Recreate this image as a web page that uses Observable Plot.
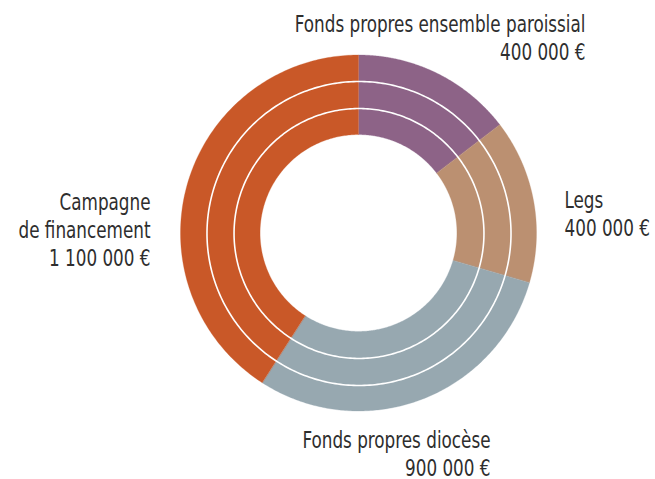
<!DOCTYPE html>
<html><head><meta charset="utf-8">
<script src="https://cdn.jsdelivr.net/npm/d3@7"></script>
<script src="https://cdn.jsdelivr.net/npm/@observablehq/plot@0.6"></script>
<style>html,body{margin:0;padding:0;background:#fff;}</style>
</head><body><div id="chart"></div>
<script>
// Data
const categories = ["Fonds propres ensemble paroissial", "Legs", "Fonds propres diocèse", "Campagne de financement"];
const amounts = [400000, 400000, 900000, 1100000];
const amountLabels = ["400 000 €", "400 000 €", "900 000 €", "1 100 000 €"];
const labelLines = [["Fonds propres ensemble paroissial"], ["Legs"], ["Fonds propres diocèse"], ["Campagne", "de financement"]];
// angular share of each slice as drawn in the picture (percent of full turn)
const shares = [14.6, 14.9, 29.6, 40.9];
const colors = ["#8d6387", "#bb9071", "#97a8b0", "#c95828"];

// geometry (radii relative to outer radius)
const R_OUT = 1, R_IN = 0.553, RINGS = [0.854, 0.702];
const N = 180;

const total = d3.sum(shares);
const slices = [];
let acc = 0;
categories.forEach((c, i) => {
  const a0 = acc / total * 2 * Math.PI;
  acc += shares[i];
  const a1 = acc / total * 2 * Math.PI;
  for (let k = 0; k <= N; k++) {
    const a = a0 + (a1 - a0) * k / N;
    slices.push({cat: c, x1: R_OUT * Math.sin(a), y1: R_OUT * Math.cos(a), x2: R_IN * Math.sin(a), y2: R_IN * Math.cos(a)});
  }
});
const rings = [];
RINGS.forEach((r, j) => {
  for (let k = 0; k <= 360; k++) {
    const a = k / 360 * 2 * Math.PI;
    rings.push({ring: j, x: r * Math.sin(a), y: r * Math.cos(a)});
  }
});

// label placement (pixel anchors converted to data units)
const cx = 358.5, cy = 233, RP = 178;
const labelLayout = [
  {px: 585, py: 59, anchor: "end"},
  {px: 564, py: 235, anchor: "start"},
  {px: 490, py: 475, anchor: "end"},
  {px: 150, py: 265, anchor: "end"}
];
const labels = categories.map((c, i) => ({
  text: [...labelLines[i], amountLabels[i]].join("\n"),
  x: (labelLayout[i].px - cx) / RP,
  y: (cy - labelLayout[i].py) / RP,
  anchor: labelLayout[i].anchor
}));

const FS = 22.5;
const SQUEEZE = 0.83;
const textOpts = {x: "x", y: "y", text: "text", lineAnchor: "bottom", lineHeight: 28 / FS,
  fontSize: FS, fontFamily: "'DejaVu Sans Condensed', 'DejaVu Sans', sans-serif", fill: "#2e2e2e"};

const chart = Plot.plot({
  width: 655, height: 479,
  margin: 0,
  x: {domain: [-1, 1], range: [cx - RP, cx + RP], axis: null},
  y: {domain: [-1, 1], range: [cy + RP, cy - RP], axis: null},
  color: {domain: categories, range: colors},
  marks: [
    Plot.area(slices, {x1: "x1", y1: "y1", x2: "x2", y2: "y2", z: "cat", fill: "cat", stroke: "cat", strokeWidth: 0.3}),
    Plot.line(rings, {x: "x", y: "y", z: "ring", stroke: "white", strokeWidth: 1.6}),
    Plot.text(labels.filter(d => d.anchor === "end"), {...textOpts, textAnchor: "end"}),
    Plot.text(labels.filter(d => d.anchor === "start"), {...textOpts, textAnchor: "start"})
  ]
});
document.getElementById("chart").appendChild(chart);
// condense glyphs horizontally (condensed typeface look)
chart.querySelectorAll("text tspan").forEach(t => {
  const len = t.getComputedTextLength();
  t.setAttribute("textLength", (len * SQUEEZE).toFixed(1));
  t.setAttribute("lengthAdjust", "spacingAndGlyphs");
});
</script>
</body></html>
